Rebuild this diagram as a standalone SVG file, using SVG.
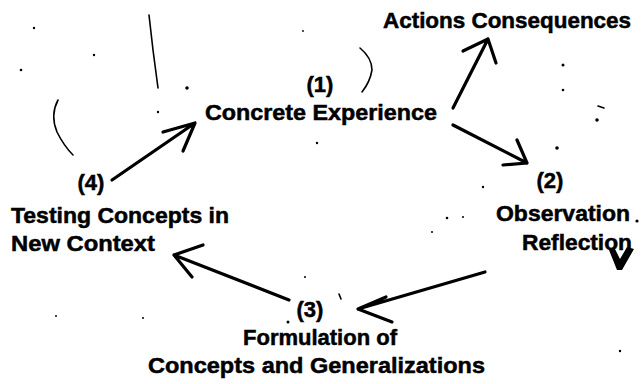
<svg xmlns="http://www.w3.org/2000/svg" width="642" height="384" viewBox="0 0 642 384">
  <style>
    .lbl { font-family: "Liberation Sans", Arial, sans-serif; font-weight: 700; font-size: 22px; fill: #000; stroke: #000; stroke-width: 0.5; }
    .num { text-anchor: middle; }
    .arrow { fill: none; stroke: #000; stroke-width: 3.2; stroke-linecap: round; stroke-linejoin: round; }
    .mark { fill: none; stroke: #000; stroke-width: 1.6; stroke-linecap: round; }
    .dot { fill: #000; }
  </style>
  <rect width="642" height="384" fill="#fff"/>

  <!-- stray pen marks on the sheet -->
  <g id="marks">
    <path class="mark" d="M149,15 L153,50 L158,88"/>
    <path class="mark" d="M360,48 Q372,58 372,70 Q370,82 362,92"/>
    <path class="mark" d="M58,100 Q50,115 57,132 Q64,146 73,155"/>
    <path class="dot" d="M609,250 L615,249 L620,259 L627,247 L634,249 L622,270 L617,270 Z"/>
    <path class="mark" d="M339,294 L341,299" stroke-width="1.4"/>
    <circle class="dot" cx="34" cy="28" r="1.2"/>
    <circle class="dot" cx="94" cy="55" r="1.2"/>
    <circle class="dot" cx="21" cy="70" r="1.3"/>
    <circle class="dot" cx="187" cy="88" r="1.8"/>
    <circle class="dot" cx="158" cy="112" r="1.2"/>
    <circle class="dot" cx="303" cy="31" r="0.9"/>
    <circle class="dot" cx="563" cy="65" r="1.5"/>
    <circle class="dot" cx="563" cy="90" r="1.3"/>
    <path class="mark" d="M598,106 L604,108" stroke-width="2"/>
    <circle class="dot" cx="597" cy="120" r="1.8"/>
    <circle class="dot" cx="557" cy="148" r="1.8"/>
    <circle class="dot" cx="317" cy="143" r="1.2"/>
    <circle class="dot" cx="483" cy="187" r="1.2"/>
    <circle class="dot" cx="447" cy="218" r="1.3"/>
    <circle class="dot" cx="463" cy="217" r="1"/>
    <circle class="dot" cx="637" cy="221" r="1.6"/>
    <circle class="dot" cx="432" cy="232" r="1"/>
    <circle class="dot" cx="305" cy="277" r="1"/>
    <circle class="dot" cx="288" cy="322" r="1.5"/>
    <circle class="dot" cx="56" cy="316" r="1"/>
    <circle class="dot" cx="143" cy="318" r="1"/>
    <circle class="dot" cx="620" cy="351" r="1.2"/>
  </g>

  <g id="connectors">
    <!-- (1) to Actions Consequences -->
    <path class="arrow" d="M453,108 L488,39 M463,51 L488,39 L496,63"/>
    <!-- (4) to (1) -->
    <path class="arrow" d="M112,180 L195,123 M163,132 L195,123 L183,151"/>
    <!-- (1) to (2) -->
    <path class="arrow" d="M453,125 L527,163 M503,165 L527,163 L517,140"/>
    <!-- (2) to (3) -->
    <path class="arrow" d="M485,272 L358,309 M386,297 L358,309 L392,322"/>
    <!-- (3) to (4) -->
    <path class="arrow" d="M289,300 L174,255 M203,245 L174,255 L192,277"/>
  </g>

  <g id="actions">
    <text class="lbl" x="383" y="28" textLength="248" lengthAdjust="spacingAndGlyphs">Actions Consequences</text>
  </g>

  <g id="stage1">
    <text class="lbl num" x="320" y="92">(1)</text>
    <text class="lbl" x="205" y="120" textLength="232" lengthAdjust="spacingAndGlyphs">Concrete Experience</text>
  </g>

  <g id="stage2">
    <text class="lbl num" x="550" y="188">(2)</text>
    <text class="lbl" x="496" y="221" textLength="134" lengthAdjust="spacingAndGlyphs">Observation</text>
    <text class="lbl" x="522" y="250" textLength="110" lengthAdjust="spacingAndGlyphs">Reflection</text>
  </g>

  <g id="stage3">
    <text class="lbl num" x="310" y="317">(3)</text>
    <text class="lbl" x="243" y="345" textLength="154" lengthAdjust="spacingAndGlyphs">Formulation of</text>
    <text class="lbl" x="148" y="373" textLength="337" lengthAdjust="spacingAndGlyphs">Concepts and Generalizations</text>
  </g>

  <g id="stage4">
    <text class="lbl num" x="91" y="190">(4)</text>
    <text class="lbl" x="11" y="223" textLength="218" lengthAdjust="spacingAndGlyphs">Testing Concepts in</text>
    <text class="lbl" x="11" y="251" textLength="144" lengthAdjust="spacingAndGlyphs">New Context</text>
  </g>
</svg>
